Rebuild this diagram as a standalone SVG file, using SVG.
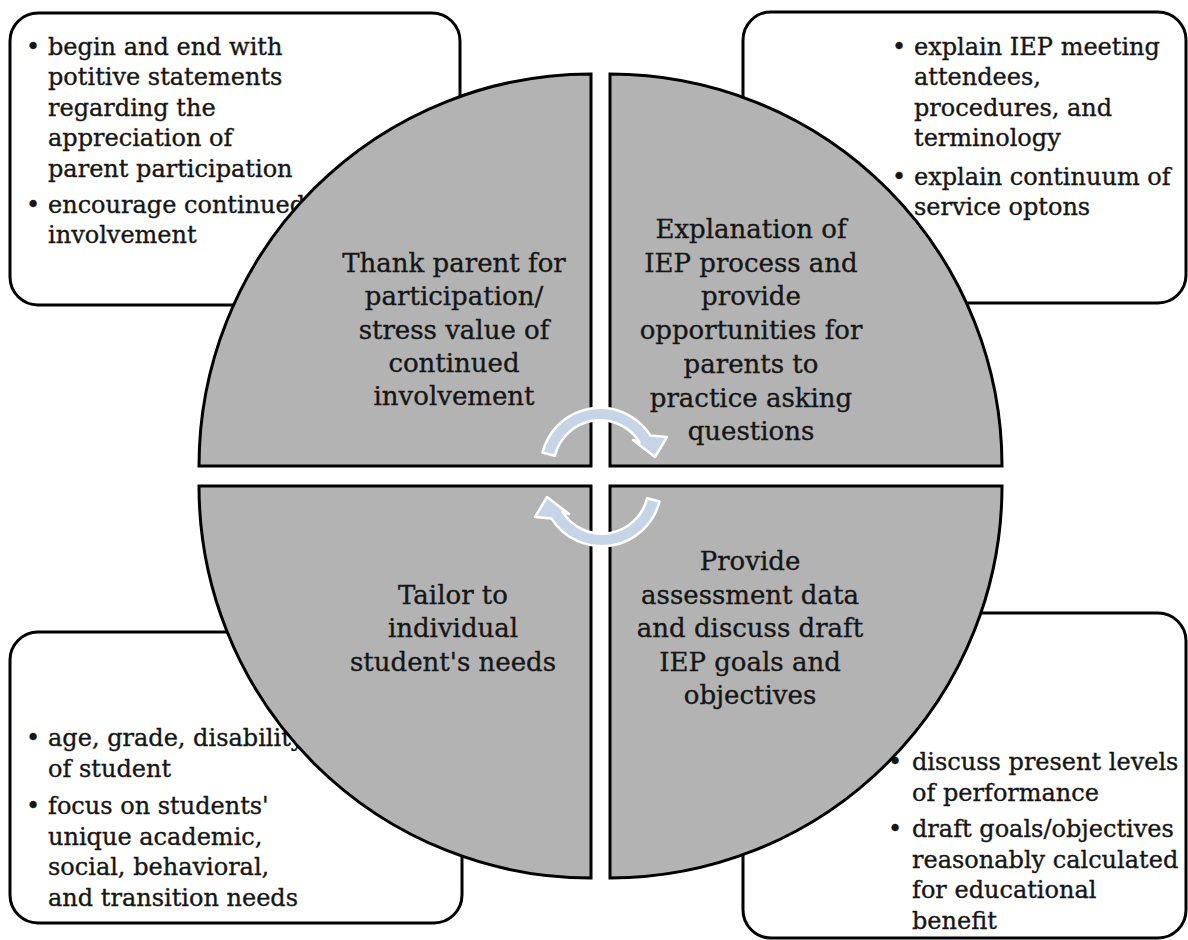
<svg xmlns="http://www.w3.org/2000/svg" xmlns:xlink="http://www.w3.org/1999/xlink" width="1188" height="940" viewBox="0 0 1188 940">
  <style>
    .box { fill: #ffffff; stroke: #000000; stroke-width: 3; }
    .quad { fill: #b3b3b3; stroke: #000000; stroke-width: 3; stroke-linejoin: miter; }
    .note { font-family: "DejaVu Serif", "Liberation Serif", serif; font-size: 24px; fill: #161616; stroke: #161616; stroke-width: 0.35; }
    .label { font-family: "DejaVu Serif", "Liberation Serif", serif; font-size: 26px; fill: #161616; stroke: #161616; stroke-width: 0.35; text-anchor: middle; }
    .cyc { fill: #c6d4e8; stroke: #ffffff; stroke-width: 2.5; stroke-linejoin: round; }
  </style>
  <defs>
    <!-- clockwise circular arrow over the upper half of the centre -->
    <path id="cycleArrow" d="M542.5,452.5 A59.5,59.5 0 0 1 650.4,435.4 L667,437 L655,457 L633,440 L639.6,442.3 A46.5,46.5 0 0 0 554.9,455.7 Z"/>
  </defs>

  <rect width="1188" height="940" fill="#ffffff"/>

  <!-- corner detail boxes -->
  <g id="box-thank">
    <rect class="box" x="10" y="13" width="450" height="292" rx="28"/>
    <text class="note" x="26" y="55">•</text>
    <text class="note" x="48" y="55">begin and end with</text>
    <text class="note" x="48" y="85.4">potitive statements</text>
    <text class="note" x="48" y="115.8">regarding the</text>
    <text class="note" x="48" y="146.2">appreciation of</text>
    <text class="note" x="48" y="176.6">parent participation</text>
    <text class="note" x="26" y="213">•</text>
    <text class="note" x="48" y="213">encourage continued</text>
    <text class="note" x="48" y="243.4">involvement</text>
  </g>

  <g id="box-explain">
    <rect class="box" x="743" y="12" width="443" height="291" rx="28"/>
    <text class="note" x="892" y="55">•</text>
    <text class="note" x="914" y="55">explain IEP meeting</text>
    <text class="note" x="914" y="85.4">attendees,</text>
    <text class="note" x="914" y="115.8">procedures, and</text>
    <text class="note" x="914" y="146.2">terminology</text>
    <text class="note" x="892" y="184.5">•</text>
    <text class="note" x="914" y="184.5">explain continuum of</text>
    <text class="note" x="914" y="214.9">service optons</text>
  </g>

  <g id="box-tailor">
    <rect class="box" x="10" y="632" width="452" height="291" rx="28"/>
    <text class="note" x="26" y="746">•</text>
    <text class="note" x="48" y="746">age, grade, disability</text>
    <text class="note" x="48" y="776.5">of student</text>
    <text class="note" x="26" y="814">•</text>
    <text class="note" x="48" y="814">focus on students'</text>
    <text class="note" x="48" y="844.5">unique academic,</text>
    <text class="note" x="48" y="875">social, behavioral,</text>
    <text class="note" x="48" y="905.5">and transition needs</text>
  </g>

  <g id="box-assess">
    <rect class="box" x="743" y="613" width="443" height="325" rx="28"/>
    <text class="note" x="888" y="770">•</text>
    <text class="note" x="912" y="770">discuss present levels</text>
    <text class="note" x="912" y="800.5">of performance</text>
    <text class="note" x="888" y="837">•</text>
    <text class="note" x="912" y="837">draft goals/objectives</text>
    <text class="note" x="912" y="867.5">reasonably calculated</text>
    <text class="note" x="912" y="898">for educational</text>
    <text class="note" x="912" y="928.5">benefit</text>
  </g>

  <!-- four quarter-circle stages -->
  <g id="stage-thank">
    <path class="quad" d="M591,466 L199,466 A392,392 0 0 1 591,74 Z"/>
    <text class="label" x="454" y="272">Thank parent for</text>
    <text class="label" x="454" y="305.3">participation/</text>
    <text class="label" x="454" y="338.6">stress value of</text>
    <text class="label" x="454" y="372">continued</text>
    <text class="label" x="454" y="405.3">involvement</text>
  </g>

  <g id="stage-explain">
    <path class="quad" d="M610,466 L610,74 A392,392 0 0 1 1002,466 Z"/>
    <text class="label" x="751" y="238">Explanation of</text>
    <text class="label" x="751" y="271.7">IEP process and</text>
    <text class="label" x="751" y="305.4">provide</text>
    <text class="label" x="751" y="339.1">opportunities for</text>
    <text class="label" x="751" y="372.8">parents to</text>
    <text class="label" x="751" y="406.5">practice asking</text>
    <text class="label" x="751" y="440.2">questions</text>
  </g>

  <g id="stage-assess">
    <path class="quad" d="M610,486 L1002,486 A392,392 0 0 1 610,878 Z"/>
    <text class="label" x="750" y="570">Provide</text>
    <text class="label" x="750" y="603.5">assessment data</text>
    <text class="label" x="750" y="637">and discuss draft</text>
    <text class="label" x="750" y="670.5">IEP goals and</text>
    <text class="label" x="750" y="704">objectives</text>
  </g>

  <g id="stage-tailor">
    <path class="quad" d="M591,486 L591,878 A392,392 0 0 1 199,486 Z"/>
    <text class="label" x="453" y="603.5">Tailor to</text>
    <text class="label" x="453" y="637">individual</text>
    <text class="label" x="453" y="670.5">student's needs</text>
  </g>

  <!-- cycle arrows in the centre -->
  <g id="connectors">
    <use class="cyc" xlink:href="#cycleArrow" href="#cycleArrow"/>
    <use class="cyc" xlink:href="#cycleArrow" href="#cycleArrow" transform="rotate(180 601 477)"/>
  </g>
</svg>
